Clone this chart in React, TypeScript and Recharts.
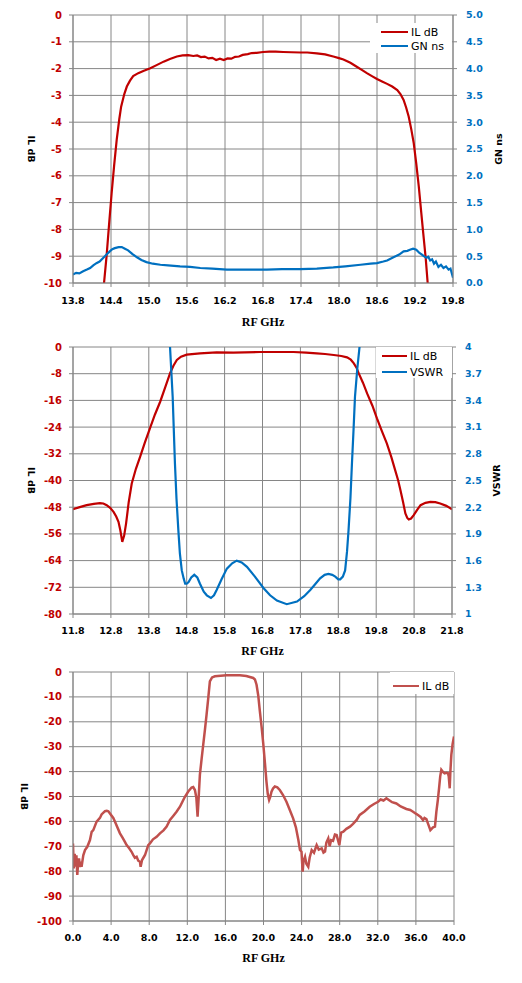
import React from "react";
import { LineChart, Line, XAxis, YAxis, CartesianGrid, Legend, Label } from "recharts";

// ---- chart 1: IL dB / group delay, 13.8 - 19.8 GHz ----
const c1Ticks = [13.8, 14.4, 15.0, 15.6, 16.2, 16.8, 17.4, 18.0, 18.6, 19.2, 19.8];
const c1IlTicks = [-10, -9, -8, -7, -6, -5, -4, -3, -2, -1, 0];
const c1GnTicks = [0, 0.5, 1, 1.5, 2, 2.5, 3, 3.5, 4, 4.5, 5];

const c1Freq = [
  14.27, 14.33, 14.37, 14.41, 14.45, 14.49, 14.53, 14.56, 14.61, 14.65, 14.7, 14.75, 14.83, 14.91,
  15.02, 15.12, 15.23, 15.33, 15.44, 15.53, 15.62, 15.7, 15.76, 15.82, 15.88, 15.94, 16.0, 16.06,
  16.12, 16.18, 16.24, 16.3, 16.36, 16.42, 16.48, 16.56, 16.62, 16.7, 16.8, 16.9, 17.0, 17.12,
  17.25, 17.39, 17.5, 17.65, 17.78, 17.91, 18.0, 18.07, 18.18, 18.28, 18.36, 18.44, 18.52, 18.6,
  18.68, 18.76, 18.84, 18.92, 18.97, 19.02, 19.06, 19.1, 19.14, 19.18, 19.22, 19.26, 19.3, 19.33,
  19.37, 19.4, 19.42,
];
const c1Il = [
  -10.5, -9.0, -7.8, -6.65, -5.6, -4.66, -3.9, -3.42, -2.95, -2.67, -2.45, -2.28, -2.17, -2.09,
  -1.99, -1.87, -1.74, -1.64, -1.55, -1.51, -1.5, -1.53, -1.51, -1.57, -1.55, -1.62, -1.6, -1.68,
  -1.63, -1.68, -1.62, -1.63, -1.56, -1.55, -1.49, -1.46, -1.42, -1.41, -1.38, -1.37, -1.37, -1.38,
  -1.39, -1.4, -1.4, -1.43, -1.47, -1.55, -1.61, -1.66, -1.78, -1.93, -2.05, -2.17, -2.28, -2.39,
  -2.48, -2.57, -2.67, -2.8, -2.95, -3.17, -3.45, -3.79, -4.25, -4.78, -5.55, -6.4, -7.4, -8.14,
  -9.1, -10.0, -10.5,
];

const c1GnFreq = [
  13.8, 13.85, 13.9, 13.96, 14.02, 14.07, 14.12, 14.17, 14.22, 14.28, 14.33, 14.38, 14.42, 14.46,
  14.52, 14.57, 14.62, 14.67, 14.74, 14.81, 14.88, 14.96, 15.06, 15.18, 15.3, 15.49, 15.65, 15.81,
  16.0, 16.23, 16.5, 16.86, 17.1, 17.39, 17.65, 17.91, 18.1, 18.34, 18.5, 18.6, 18.7, 18.76, 18.86,
  18.95, 19.02, 19.08, 19.12, 19.17, 19.22, 19.27, 19.31, 19.34, 19.38, 19.41, 19.44, 19.47, 19.5,
  19.53, 19.57, 19.61, 19.65, 19.69, 19.73, 19.76, 19.8,
];
const c1Gn = [
  0.16, 0.19, 0.18, 0.22, 0.25, 0.28, 0.33, 0.37, 0.4, 0.47, 0.53, 0.59, 0.63, 0.65,
  0.67, 0.67, 0.64, 0.61, 0.54, 0.48, 0.43, 0.39, 0.36, 0.34, 0.33, 0.31, 0.3, 0.28,
  0.27, 0.25, 0.25, 0.25, 0.26, 0.26, 0.27, 0.29, 0.31, 0.34, 0.36, 0.37, 0.4, 0.42, 0.48,
  0.53, 0.59, 0.6, 0.62, 0.64, 0.62, 0.56, 0.53, 0.5, 0.47, 0.49, 0.42, 0.44, 0.36,
  0.4, 0.3, 0.34, 0.28, 0.31, 0.25, 0.27, 0.1,
];

// ---- chart 2: IL dB / VSWR, 11.8 - 21.8 GHz ----
const c2Ticks = [11.8, 12.8, 13.8, 14.8, 15.8, 16.8, 17.8, 18.8, 19.8, 20.8, 21.8];
const c2IlTicks = [-80, -72, -64, -56, -48, -40, -32, -24, -16, -8, 0];
const c2VswrTicks = [1, 1.3, 1.6, 1.9, 2.2, 2.5, 2.8, 3.1, 3.4, 3.7, 4];

const c2Freq = [
  11.8, 12.0, 12.16, 12.35, 12.51, 12.6, 12.69, 12.78, 12.87, 12.94, 13.0, 13.05, 13.1, 13.15,
  13.2, 13.27, 13.35, 13.46, 13.57, 13.7, 13.83, 13.96, 14.1, 14.23, 14.36, 14.45, 14.54, 14.65,
  14.8, 15.15, 15.59, 16.03, 16.74, 17.2, 17.62, 17.95, 18.23, 18.45, 18.68, 18.88, 19.03, 19.13,
  19.21, 19.28, 19.34, 19.45, 19.56, 19.7, 19.82, 19.95, 20.08, 20.2, 20.3, 20.38, 20.44, 20.51,
  20.57, 20.62, 20.66, 20.72, 20.79, 20.88, 20.97, 21.1, 21.23, 21.36, 21.49, 21.65, 21.8,
];
const c2Il = [
  -48.6, -47.9, -47.4, -47.0, -46.8, -46.9, -47.4, -48.2, -49.4, -50.8, -52.4, -55.0, -58.4, -56.5,
  -52.9, -46.5, -40.9, -36.5, -32.9, -28.5, -24.4, -20.3, -16.4, -12.2, -7.9, -5.6, -3.9, -2.9,
  -2.3, -1.9, -1.6, -1.7, -1.5, -1.5, -1.5, -1.7, -1.9, -2.1, -2.4, -2.7, -3.1, -3.8,
  -4.9, -6.2, -7.9, -10.7, -13.9, -17.6, -21.4, -25.2, -28.9, -33.0, -36.9, -40.0, -42.9, -46.5,
  -49.9, -51.2, -51.7, -51.4, -50.4, -48.8, -47.4, -46.7, -46.4, -46.5, -46.9, -47.6, -48.6,
];

const c2VswrFreq = [
  14.3, 14.36, 14.43, 14.49, 14.53, 14.58, 14.62, 14.67, 14.72, 14.76, 14.8, 14.85, 14.92, 15.0,
  15.08, 15.15, 15.25, 15.33, 15.44, 15.52, 15.59, 15.72, 15.86, 16.0, 16.12, 16.25, 16.39, 16.6,
  16.83, 17.0, 17.18, 17.44, 17.71, 17.9, 18.06, 18.2, 18.32, 18.44, 18.54, 18.64, 18.72, 18.8,
  18.85, 18.92, 18.98, 19.03, 19.07, 19.12, 19.16, 19.2, 19.24, 19.3, 19.36, 19.42,
];
const c2Vswr = [
  4.6, 4.0, 3.44, 2.69, 2.3, 1.94, 1.68, 1.49, 1.4, 1.34, 1.34, 1.36, 1.41, 1.44,
  1.41, 1.34, 1.25, 1.21, 1.18, 1.21, 1.27, 1.39, 1.51, 1.57, 1.6, 1.58, 1.53, 1.42,
  1.29, 1.21, 1.15, 1.11, 1.14, 1.2, 1.27, 1.34, 1.4, 1.44, 1.45, 1.44, 1.42, 1.39,
  1.39, 1.42, 1.49, 1.7, 1.94, 2.3, 2.69, 3.05, 3.44, 3.75, 4.0, 4.6,
];

// ---- chart 3: IL dB wideband, 0 - 40 GHz ----
const c3Ticks = [0, 4, 8, 12, 16, 20, 24, 28, 32, 36, 40];
const c3IlTicks = [-100, -90, -80, -70, -60, -50, -40, -30, -20, -10, 0];

const c3Freq = [
  0.0, 0.08, 0.18, 0.28, 0.36, 0.45, 0.55, 0.63, 0.73, 0.8, 0.9, 1.08, 1.26, 1.5, 1.78, 1.96, 2.13,
  2.48, 2.83, 3.0, 3.36, 3.55, 3.71, 3.88, 4.23, 4.41, 4.93, 5.2, 5.45, 5.63, 5.9, 6.15, 6.33, 6.5,
  6.68, 6.85, 7.03, 7.1, 7.25, 7.45, 7.56, 7.9, 8.08, 8.4, 8.78, 9.13, 9.5, 9.83, 10.18, 10.5,
  10.87, 11.23, 11.5, 11.75, 12.1, 12.45, 12.62, 12.8, 12.95, 13.08, 13.2, 13.32, 13.5, 13.67,
  13.85, 14.02, 14.2, 14.37, 14.6, 14.9, 15.5, 16.12, 16.8, 17.52, 18.2, 18.92, 19.1, 19.27, 19.45,
  19.62, 19.8, 19.97, 20.15, 20.31, 20.45, 20.59, 20.7, 20.84, 21.0, 21.19, 21.45, 21.71, 22.05,
  22.41, 22.75, 23.11, 23.4, 23.66, 23.83, 23.99, 24.11, 24.2, 24.36, 24.5, 24.7, 24.85, 25.06,
  25.3, 25.58, 25.8, 26.11, 26.3, 26.46, 26.6, 26.8, 26.95, 27.1, 27.3, 27.5, 27.68, 27.96, 28.15,
  28.38, 28.7, 29.08, 29.4, 29.78, 30.1, 30.6, 31.15, 31.6, 32.03, 32.3, 32.6, 32.9, 33.2, 33.5,
  33.95, 34.4, 35.0, 35.4, 35.7, 36.0, 36.22, 36.5, 36.75, 36.9, 37.1, 37.3, 37.52, 37.8, 38.0,
  38.15, 38.3, 38.43, 38.55, 38.67, 38.85, 39.02, 39.2, 39.37, 39.45, 39.55, 39.62, 39.72, 39.85, 40.0,
];
const c3Il = [
  -68.9, -78.9, -73.0, -78.2, -73.6, -81.5, -76.0, -74.9, -78.3, -76.2, -78.2, -73.6, -71.5, -70.2,
  -67.5, -64.2, -63.5, -60.1, -58.6, -57.2, -55.9, -55.7, -55.9, -56.8, -58.6, -60.1, -64.8, -66.5,
  -68.2, -69.5, -70.8, -72.2, -73.5, -74.6, -74.2, -75.8, -76.2, -78.2, -75.5, -74.2, -73.5, -69.5,
  -68.8, -67.2, -66.2, -64.8, -63.6, -62.1, -59.4, -57.9, -56.1, -54.1, -52.0, -50.1, -48.0, -46.4,
  -46.2, -47.4, -50.5, -58.1, -50.0, -41.3, -35.0, -29.3, -23.2, -17.2, -10.5, -3.8, -2.2, -1.7,
  -1.5, -1.3, -1.3, -1.3, -1.6, -2.4, -3.0, -5.1, -9.5, -15.8, -22.0, -28.6, -36.5, -44.0, -49.0,
  -51.4, -50.3, -48.1, -46.8, -46.0, -46.3, -47.4, -49.4, -52.1, -55.3, -58.8, -62.4, -67.5,
  -71.5, -72.2, -80.2, -76.0, -74.2, -77.0, -78.2, -74.5, -71.5, -72.6, -69.5, -71.3, -70.8,
  -72.5, -72.1, -68.5, -66.8, -70.0, -67.5, -67.8, -65.3, -65.5, -69.5, -64.5, -64.1, -63.0, -62.1,
  -61.0, -59.4, -57.4, -56.0, -54.1, -53.0, -52.1, -51.2, -51.6, -50.7, -51.5, -52.3, -52.8, -54.0,
  -55.0, -55.4, -56.1, -56.9, -57.4, -58.2, -59.5, -58.6, -59.1, -61.2, -63.5, -62.4, -62.1,
  -56.1, -51.5, -46.7, -42.0, -39.3, -40.2, -40.7, -40.5, -40.7, -42.0, -46.7, -40.0, -33.3,
  -29.0, -25.9,
];

const toPoints = (fs: number[], vs: number[]) => fs.map((f, i) => ({ f, v: vs[i] }));

const GRID = "#868686";
const RED = "#C00000";
const BLUE = "#0070C0";
const BROWN = "#C0504D";
const SANS = "DejaVu Sans";

const xTick = { fill: "#000", fontSize: 9.5, fontWeight: "bold", fontFamily: SANS };
const leftTick = { fill: RED, fontSize: 10, fontWeight: "bold", fontFamily: SANS };
const rightTick = { fill: BLUE, fontSize: 9.5, fontWeight: "bold", fontFamily: SANS };

const fmt1 = (v: number) => v.toFixed(1);
const fmtVswr = (v: number) => (Number.isInteger(v) ? String(v) : v.toFixed(1));

function vTitle(text: string, cx: number, angle: number) {
  return (props: any) => {
    const vb = props.viewBox || {};
    const cy = vb.y + vb.height / 2;
    return (
      <text
        transform={`translate(${cx},${cy}) rotate(${angle})`}
        textAnchor="middle"
        dominantBaseline="central"
        fontFamily={SANS}
        fontWeight="bold"
        fontSize={9.5}
        fill="#000"
      >
        {text}
      </text>
    );
  };
}

function xTitle(baseline: number) {
  return (props: any) => {
    const vb = props.viewBox || {};
    return (
      <text
        x={vb.x + vb.width / 2}
        y={baseline}
        textAnchor="middle"
        fontFamily="Liberation Serif"
        fontWeight="bold"
        fontSize={12}
        fill="#000"
      >
        RF GHz
      </text>
    );
  };
}

type Item = { name: string; color: string };

function legendBox(items: Item[], gap: number, lineLeft: number, lineW: number, padTop: number) {
  return () => (
    <div style={{ position: "relative", background: "#fff", width: "100%", height: "100%" }}>
      {items.map((it, i) => (
        <div
          key={it.name}
          style={{
            position: "absolute",
            left: lineLeft,
            top: padTop + i * gap - 7,
            height: 14,
            display: "flex",
            alignItems: "center",
            fontFamily: SANS,
            fontSize: 11,
            color: "#000",
            whiteSpace: "nowrap",
          }}
        >
          <span style={{ display: "inline-block", width: lineW, height: 2.5, background: it.color, marginRight: 3 }} />
          {it.name}
        </div>
      ))}
    </div>
  );
}

export default function App() {
  return (
    <div style={{ position: "absolute", left: 0, top: 0, width: 522, height: 983, background: "#fff" }}>
      {/* chart 1 */}
      <div style={{ position: "absolute", left: 0, top: 0 }}>
        <LineChart width={522} height={330} margin={{ top: 15, right: 0, bottom: 0, left: 0 }}>
          <CartesianGrid stroke={GRID} yAxisId="L" />
          <XAxis
            dataKey="f"
            type="number"
            domain={[13.8, 19.8]}
            ticks={c1Ticks}
            tickFormatter={fmt1}
            allowDataOverflow
            height={47}
            tick={xTick}
            tickSize={4}
            tickMargin={10}
            stroke={GRID}
          >
            <Label content={xTitle(326)} />
          </XAxis>
          <YAxis
            yAxisId="L"
            domain={[-10, 0]}
            ticks={c1IlTicks}
            allowDataOverflow
            width={73}
            tick={leftTick}
            tickSize={4}
            tickMargin={7}
            stroke={GRID}
          >
            <Label content={vTitle("IL dB", 31, 90)} />
          </YAxis>
          <YAxis
            yAxisId="R"
            orientation="right"
            domain={[0, 5]}
            ticks={c1GnTicks}
            tickFormatter={fmt1}
            allowDataOverflow
            width={69}
            tick={rightTick}
            tickSize={4}
            tickMargin={9}
            stroke={GRID}
          >
            <Label content={vTitle("GN ns", 498, -90)} />
          </YAxis>
          <Line
            yAxisId="L"
            data={toPoints(c1Freq, c1Il)}
            dataKey="v"
            name="IL dB"
            stroke={RED}
            strokeWidth={2.2}
            dot={false}
            isAnimationActive={false}
          />
          <Line
            yAxisId="R"
            data={toPoints(c1GnFreq, c1Gn)}
            dataKey="v"
            name="GN ns"
            stroke={BLUE}
            strokeWidth={2.2}
            dot={false}
            isAnimationActive={false}
          />
          <Legend
            layout="horizontal"
            verticalAlign="middle"
            align="center"
            wrapperStyle={{ left: 370, top: 23, width: 82, height: 30 }}
            content={legendBox(
              [
                { name: "IL dB", color: RED },
                { name: "GN ns", color: BLUE },
              ],
              14,
              11,
              27,
              9
            )}
          />
        </LineChart>
      </div>

      {/* chart 2 */}
      <div style={{ position: "absolute", left: 0, top: 330 }}>
        <LineChart width={522} height={328} margin={{ top: 17, right: 0, bottom: 0, left: 0 }}>
          <CartesianGrid stroke={GRID} yAxisId="L" />
          <XAxis
            dataKey="f"
            type="number"
            domain={[11.8, 21.8]}
            ticks={c2Ticks}
            tickFormatter={fmt1}
            allowDataOverflow
            height={44}
            tick={xTick}
            tickSize={4}
            tickMargin={9}
            stroke={GRID}
          >
            <Label content={xTitle(325)} />
          </XAxis>
          <YAxis
            yAxisId="L"
            domain={[-80, 0]}
            ticks={c2IlTicks}
            allowDataOverflow
            width={73}
            tick={leftTick}
            tickSize={4}
            tickMargin={7}
            stroke={GRID}
          >
            <Label content={vTitle("IL dB", 31, 90)} />
          </YAxis>
          <YAxis
            yAxisId="R"
            orientation="right"
            domain={[1, 4]}
            ticks={c2VswrTicks}
            tickFormatter={fmtVswr}
            allowDataOverflow
            width={70}
            tick={rightTick}
            tickSize={4}
            tickMargin={9}
            stroke={GRID}
          >
            <Label content={vTitle("VSWR", 496, -90)} />
          </YAxis>
          <Line
            yAxisId="L"
            data={toPoints(c2Freq, c2Il)}
            dataKey="v"
            name="IL dB"
            stroke={RED}
            strokeWidth={2.2}
            dot={false}
            isAnimationActive={false}
          />
          <Line
            yAxisId="R"
            data={toPoints(c2VswrFreq, c2Vswr)}
            dataKey="v"
            name="VSWR"
            stroke={BLUE}
            strokeWidth={2.2}
            dot={false}
            isAnimationActive={false}
          />
          <Legend
            layout="horizontal"
            verticalAlign="middle"
            align="center"
            wrapperStyle={{ left: 376, top: 17, width: 76, height: 31 }}
            content={legendBox(
              [
                { name: "IL dB", color: RED },
                { name: "VSWR", color: BLUE },
              ],
              16,
              6,
              25,
              9
            )}
          />
        </LineChart>
      </div>

      {/* chart 3 */}
      <div style={{ position: "absolute", left: 0, top: 655 }}>
        <LineChart width={522} height={328} margin={{ top: 17, right: 68, bottom: 20, left: 0 }}>
          <CartesianGrid stroke={GRID} yAxisId="L" />
          <XAxis
            dataKey="f"
            type="number"
            domain={[0, 40]}
            ticks={c3Ticks}
            tickFormatter={fmt1}
            allowDataOverflow
            height={42}
            tick={xTick}
            tickSize={4}
            tickMargin={9}
            stroke={GRID}
          >
            <Label content={xTitle(307)} />
          </XAxis>
          <YAxis
            yAxisId="L"
            domain={[-100, 0]}
            ticks={c3IlTicks}
            allowDataOverflow
            width={73}
            tick={leftTick}
            tickSize={4}
            tickMargin={7}
            stroke={GRID}
          >
            <Label content={vTitle("IL dB", 24, 90)} />
          </YAxis>
          <Line
            yAxisId="L"
            data={toPoints(c3Freq, c3Il)}
            dataKey="v"
            name="IL dB"
            stroke={BROWN}
            strokeWidth={2.5}
            dot={false}
            isAnimationActive={false}
          />
          <Legend
            layout="horizontal"
            verticalAlign="middle"
            align="center"
            wrapperStyle={{ left: 390, top: 17, width: 64, height: 22 }}
            content={legendBox([{ name: "IL dB", color: BROWN }], 0, 3, 26, 14)}
          />
        </LineChart>
      </div>
    </div>
  );
}
